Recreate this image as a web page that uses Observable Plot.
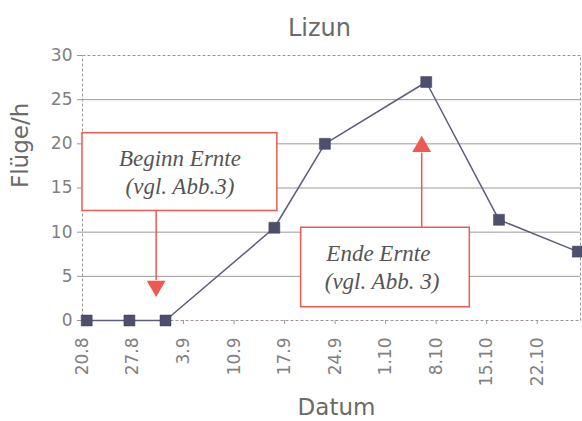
<!DOCTYPE html>
<html>
<head>
<meta charset="utf-8">
<script src="https://cdn.jsdelivr.net/npm/d3@7"></script>
<script src="https://cdn.jsdelivr.net/npm/@observablehq/plot@0.6"></script>
<style>
  html, body { margin: 0; padding: 0; background: #fff; }
  #chart svg { display: block; }
</style>
</head>
<body>
<div id="chart"></div>
<script>
// ---- data ----
const title = "Lizun";
const yLabel = "Flüge/h";
const xLabel = "Datum";
const year = 2003;
const tickLabels = ["20.8", "27.8", "3.9", "10.9", "17.9", "24.9", "1.10", "8.10", "15.10", "22.10"];
const yTicks = [0, 5, 10, 15, 20, 25, 30];
const pointDates = ["2003-08-20T14:00", "2003-08-26T12:00", "2003-08-31T12:00", "2003-09-15T14:00",
                    "2003-09-22T14:00", "2003-10-06T15:00", "2003-10-16T17:00", "2003-10-27T15:00"];
const flights = [0, 0, 0, 10.5, 20, 27, 11.4, 7.8];
const xDomain = ["2003-08-20", "2003-10-28"];

// annotation boxes (data coordinates)
const boxes = [
  {x1: "2003-08-20T00:00", x2: "2003-09-16T00:00", y1: 12.4, y2: 21.2},
  {x1: "2003-09-19T07:00", x2: "2003-10-12T16:00", y1: 1.5, y2: 10.5}
];
const boxTexts = [
  {x: "2003-09-02T12:00", y: 18.3, text: "Beginn Ernte"},
  {x: "2003-09-02T12:00", y: 15.2, text: "(vgl. Abb.3)"},
  {x: "2003-09-30T00:00", y: 7.55, text: "Ende Ernte"},
  {x: "2003-09-30T12:00", y: 4.45, text: "(vgl. Abb. 3)"}
];
const arrowDown = [{x: "2003-08-30T05:00", from: 12.4, base: 4.53, tip: 2.64}];
const arrowUp = [{x: "2003-10-06T00:00", from: 10.5, base: 18.94, tip: 20.94}];

// ---- build ----
const parseTick = s => { const [d, m] = s.split(".").map(Number); return new Date(Date.UTC(year, m - 1, d)); };
const tickDates = tickLabels.map(parseTick);
const data = pointDates.map((d, i) => ({date: new Date(d + "Z"), value: flights[i]}));
const toDate = s => new Date(s + (s.length > 10 ? "Z" : "T00:00Z"));
const boxData = boxes.map(b => ({...b, x1: toDate(b.x1), x2: toDate(b.x2)}));
const textData = boxTexts.map(t => ({...t, x: toDate(t.x)}));
const downData = arrowDown.map(a => ({...a, x: toDate(a.x)}));
const upData = arrowUp.map(a => ({...a, x: toDate(a.x)}));
const arrowData = downData.concat(upData);

const red = "#ee5a52";
const gray = "#808080";
const sans = "'DejaVu Sans', 'Liberation Sans', sans-serif";

const chart = Plot.plot({
  width: 582,
  height: 421,
  marginTop: 55,
  marginLeft: 82,
  marginRight: 2,
  marginBottom: 101,
  style: {fontFamily: sans, background: "#fff", color: gray},
  x: {type: "utc", domain: xDomain.map(s => toDate(s))},
  y: {domain: [0, 30]},
  marks: [
    Plot.gridY([5, 10, 15, 20, 25], {stroke: "#9a9a9a", strokeOpacity: 1}),
    Plot.frame({stroke: "#a09890", strokeDasharray: "3 2"}),
    Plot.axisY({ticks: yTicks, tickSize: 5, tickPadding: 5, fontSize: 17, label: null, stroke: "#999", fill: gray}),
    Plot.axisX({ticks: tickDates, tickFormat: d3.utcFormat("%-d.%-m"), tickRotate: -90, tickSize: 4,
                tickPadding: 13, fontSize: 17, label: null, stroke: "#999", fill: gray}),
    Plot.text([title], {frameAnchor: "top", lineAnchor: "middle", dx: -12, dy: -27, fontSize: 24, fill: "#6a6a6a"}),
    Plot.text([yLabel], {frameAnchor: "left", lineAnchor: "middle", dx: -62, rotate: -90, fontSize: 23, fill: "#6a6a6a"}),
    Plot.text([xLabel], {frameAnchor: "bottom", lineAnchor: "middle", dx: 5, dy: 87, fontSize: 23, fill: "#6a6a6a"}),
    Plot.rect(boxData, {x1: "x1", x2: "x2", y1: "y1", y2: "y2", fill: "#fff", stroke: red, strokeWidth: 1.5}),
    Plot.text(textData, {x: "x", y: "y", text: "text", fontSize: 23, fontStyle: "italic",
                         fontFamily: "'Liberation Serif', 'Times New Roman', serif", fill: "#555", letterSpacing: 1}),
    Plot.ruleX(arrowData, {x: "x", y1: "from", y2: "base", stroke: red, strokeWidth: 1.5}),
    Plot.dot(downData, {x: "x", y: "tip", symbol: "triangle", r: 7, fill: red, stroke: "none", rotate: 180, dy: -11}),
    Plot.dot(upData, {x: "x", y: "tip", symbol: "triangle", r: 7, fill: red, stroke: "none", dy: 11}),
    Plot.line(data, {x: "date", y: "value", stroke: "#5c5c7c", strokeWidth: 1.5}),
    Plot.dot(data, {x: "date", y: "value", symbol: "square", r: 6.2, fill: "#4e4e6e", stroke: "#3e3e5a", strokeWidth: 0.5})
  ]
});
document.getElementById("chart").appendChild(chart);
</script>
</body>
</html>
